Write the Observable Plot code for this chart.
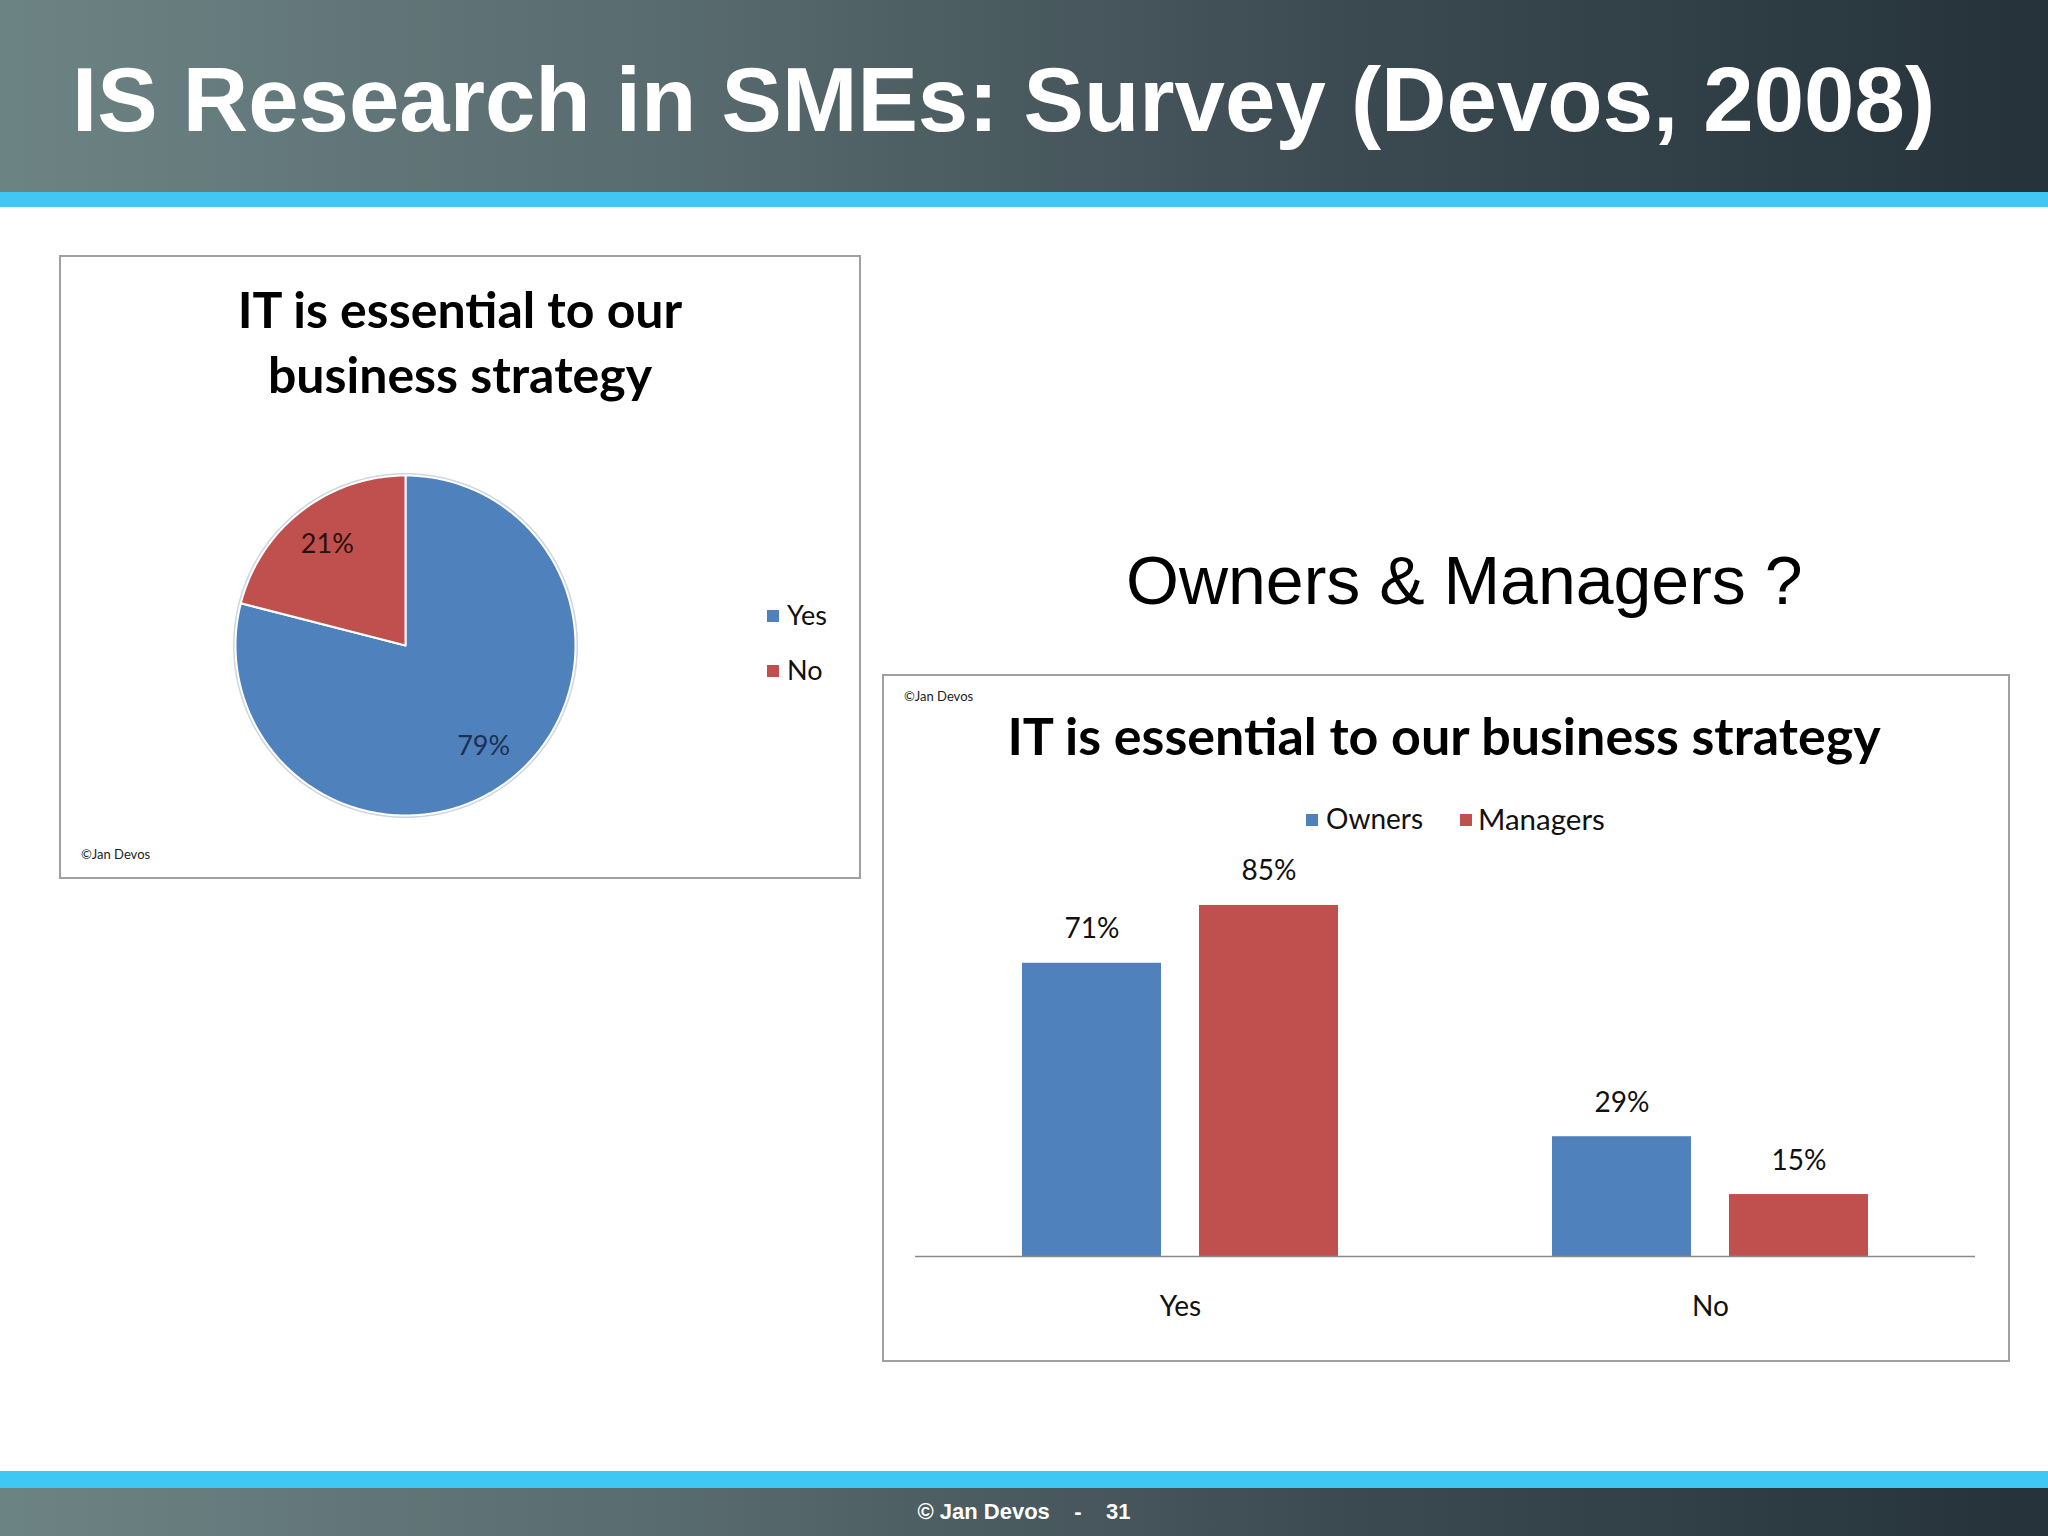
<!DOCTYPE html>
<html><head><meta charset="utf-8">
<script src="https://cdn.jsdelivr.net/npm/d3@7"></script>
<script src="https://cdn.jsdelivr.net/npm/@observablehq/plot@0.6"></script>
<style>
html,body{margin:0;padding:0;background:#fff;}
#slide{position:relative;width:2048px;height:1536px;overflow:hidden;background:#fff;font-family:Lato,sans-serif;}
.band{position:absolute;left:0;width:2048px;background:linear-gradient(to right,#6c8384 0%,#57696d 35%,#3c4b52 65%,#25323a 100%);}
.stripe{position:absolute;left:0;width:2048px;background:#3fc8f3;}
#title{position:absolute;left:72px;top:54px;font:bold 90.6px/91px "Liberation Sans",Arial,sans-serif;color:#fff;white-space:nowrap;}
#footerText{position:absolute;left:0;top:1488px;width:2048px;height:48px;line-height:48px;text-align:center;font:bold 22px/48px "Liberation Sans",Arial,sans-serif;color:#fff;white-space:pre;}
#question{position:absolute;left:1126px;top:546px;font:68px/68px "Liberation Sans",Arial,sans-serif;color:#000;white-space:nowrap;}
.panel{position:absolute;box-sizing:border-box;border:2px solid #a0a0a0;background:#fff;}
.panel svg{position:absolute;left:0;top:0;}
.ctitle{position:absolute;left:0;width:100%;text-align:center;font-family:Lato,sans-serif;font-weight:bold;color:#000;white-space:nowrap;}
.copy{position:absolute;font:13px/13px Lato,sans-serif;color:#222;white-space:nowrap;}
.leg{position:absolute;font:27px/27px Lato,sans-serif;color:#111;white-space:nowrap;}
.sw{position:absolute;width:12px;height:12px;}
</style></head>
<body><div id="slide">
<div class="band" style="top:0;height:192px"></div>
<div class="stripe" style="top:192px;height:15px"></div>
<div id="title">IS Research in SMEs: Survey (Devos, 2008)</div>
<div class="stripe" style="top:1471px;height:17px"></div>
<div class="band" style="top:1488px;height:48px"></div>
<div id="footerText">© Jan Devos    -    31</div>
<div id="question">Owners &amp; Managers ?</div>
<div class="panel" id="piePanel" style="left:59px;top:255px;width:802px;height:624px"></div>
<div class="panel" id="barPanel" style="left:882px;top:674px;width:1128px;height:688px"></div>
</div>
<script>
// ---- data ----
const pieCategories = ["Yes", "No"];
const pieValues = [79, 21];
const pieColors = ["#4f81bd", "#c0504d"];
const pieLabelColors = ["#1d2f52", "#2b0f0e"];
const pieTitle = ["IT is essential to our", "business strategy"];

const answers = ["Yes", "No"];
const groups = ["Owners", "Managers"];
const ownersValues = [71, 29];
const managersValues = [85, 15];
const barColors = ["#4f81bd", "#c0504d"];
const barTitle = "IT is essential to our business strategy";
const credit = "©Jan Devos";

// ---- pie chart ----
const piePanel = document.getElementById("piePanel");
const slices = d3.pie().sort(null).value(d => d.value)(
  pieCategories.map((k, i) => ({key: k, value: pieValues[i]}))
);
function slicePoints(s) {
  const pts = [{x: 0, y: 0}];
  const n = Math.max(2, Math.ceil((s.endAngle - s.startAngle) / (Math.PI / 180)));
  for (let i = 0; i <= n; i++) {
    const a = s.startAngle + (s.endAngle - s.startAngle) * i / n;
    pts.push({x: Math.sin(a), y: Math.cos(a)});
  }
  return pts;
}
const ring = d3.range(0, 361, 2).map(a => ({x: Math.sin(a * Math.PI / 180), y: Math.cos(a * Math.PI / 180)}));
const pieMarks = [
  Plot.line(ring, {x: "x", y: "y", curve: "linear-closed", stroke: "#cdd5df", strokeWidth: 5})
];
slices.forEach((s, i) => {
  pieMarks.push(Plot.line(slicePoints(s), {x: "x", y: "y", curve: "linear-closed", fill: pieColors[i], stroke: "#fff", strokeWidth: 2}));
});
slices.forEach((s, i) => {
  const mid = (s.startAngle + s.endAngle) / 2;
  pieMarks.push(Plot.text([s], {
    x: () => 0.75 * Math.sin(mid), y: () => 0.75 * Math.cos(mid),
    text: d => d.data.value + "%", fontSize: 27, fill: pieLabelColors[i]
  }));
});
const piePlot = Plot.plot({
  width: 798, height: 620, margin: 0,
  x: {domain: [-1, 1], range: [174, 514], axis: null},
  y: {domain: [-1, 1], range: [558, 218], axis: null},
  style: {background: "transparent", fontFamily: "Lato, sans-serif"},
  marks: pieMarks
});
piePanel.appendChild(piePlot);
const pt = document.createElement("div");
pt.className = "ctitle";
pt.style.top = "20px";
pt.style.fontSize = "50px";
pt.style.lineHeight = "65px";
pt.innerHTML = pieTitle.join("<br>");
piePanel.appendChild(pt);
pieCategories.forEach((c, i) => {
  const sw = document.createElement("div");
  sw.className = "sw"; sw.style.background = pieColors[i];
  sw.style.left = "706px"; sw.style.top = (353 + i * 55) + "px";
  piePanel.appendChild(sw);
  const t = document.createElement("div");
  t.className = "leg"; t.textContent = c;
  t.style.left = "726px"; t.style.top = (344 + i * 55) + "px";
  piePanel.appendChild(t);
});
const c1 = document.createElement("div");
c1.className = "copy"; c1.textContent = credit;
c1.style.left = "20px"; c1.style.top = "591px";
piePanel.appendChild(c1);

// ---- bar chart ----
const barPanel = document.getElementById("barPanel");
const barData = answers.flatMap((a, i) => [
  {answer: a, group: groups[0], value: ownersValues[i]},
  {answer: a, group: groups[1], value: managersValues[i]}
]);
const barPlot = Plot.plot({
  width: 1124, height: 684,
  marginLeft: 30, marginRight: 33, marginTop: 167, marginBottom: 104,
  fx: {domain: answers, padding: 0, axis: null},
  x: {domain: groups, paddingInner: 0.213, paddingOuter: 0.596, axis: null},
  y: {domain: [0, 100], axis: null},
  color: {domain: groups, range: barColors},
  style: {background: "transparent", fontFamily: "Lato, sans-serif"},
  marks: [
    Plot.barY(barData, {fx: "answer", x: "group", y: "value", fill: "group"}),
    Plot.ruleY([0], {stroke: "#8a8a8a", strokeWidth: 1.5}),
    Plot.text(barData, {fx: "answer", x: "group", y: "value", text: d => d.value + "%", dy: -34, fontSize: 28, fill: "#111"}),
    Plot.text(answers, {fx: d => d, text: d => d, frameAnchor: "bottom", dy: 59, fontSize: 28, fill: "#111"})
  ]
});
barPlot.style.position = "absolute";
barPanel.appendChild(barPlot);
const bt = document.createElement("div");
bt.className = "ctitle";
bt.style.top = "28px";
bt.style.fontSize = "52px";
bt.style.lineHeight = "62px";
bt.style.left = "60px";
bt.style.width = "1000px";
bt.textContent = barTitle;
barPanel.appendChild(bt);
const legX = [[422, 442], [576, 594]];
groups.forEach((g, i) => {
  const sw = document.createElement("div");
  sw.className = "sw"; sw.style.background = barColors[i];
  sw.style.left = legX[i][0] + "px"; sw.style.top = "138px";
  barPanel.appendChild(sw);
  const t = document.createElement("div");
  t.className = "leg"; t.textContent = g;
  t.style.fontSize = (i === 0 ? 28 : 29.5) + "px";
  t.style.left = legX[i][1] + "px"; t.style.top = "129px";
  barPanel.appendChild(t);
});
const c2 = document.createElement("div");
c2.className = "copy"; c2.textContent = credit;
c2.style.left = "20px"; c2.style.top = "14px";
barPanel.appendChild(c2);
</script>
</body></html>
